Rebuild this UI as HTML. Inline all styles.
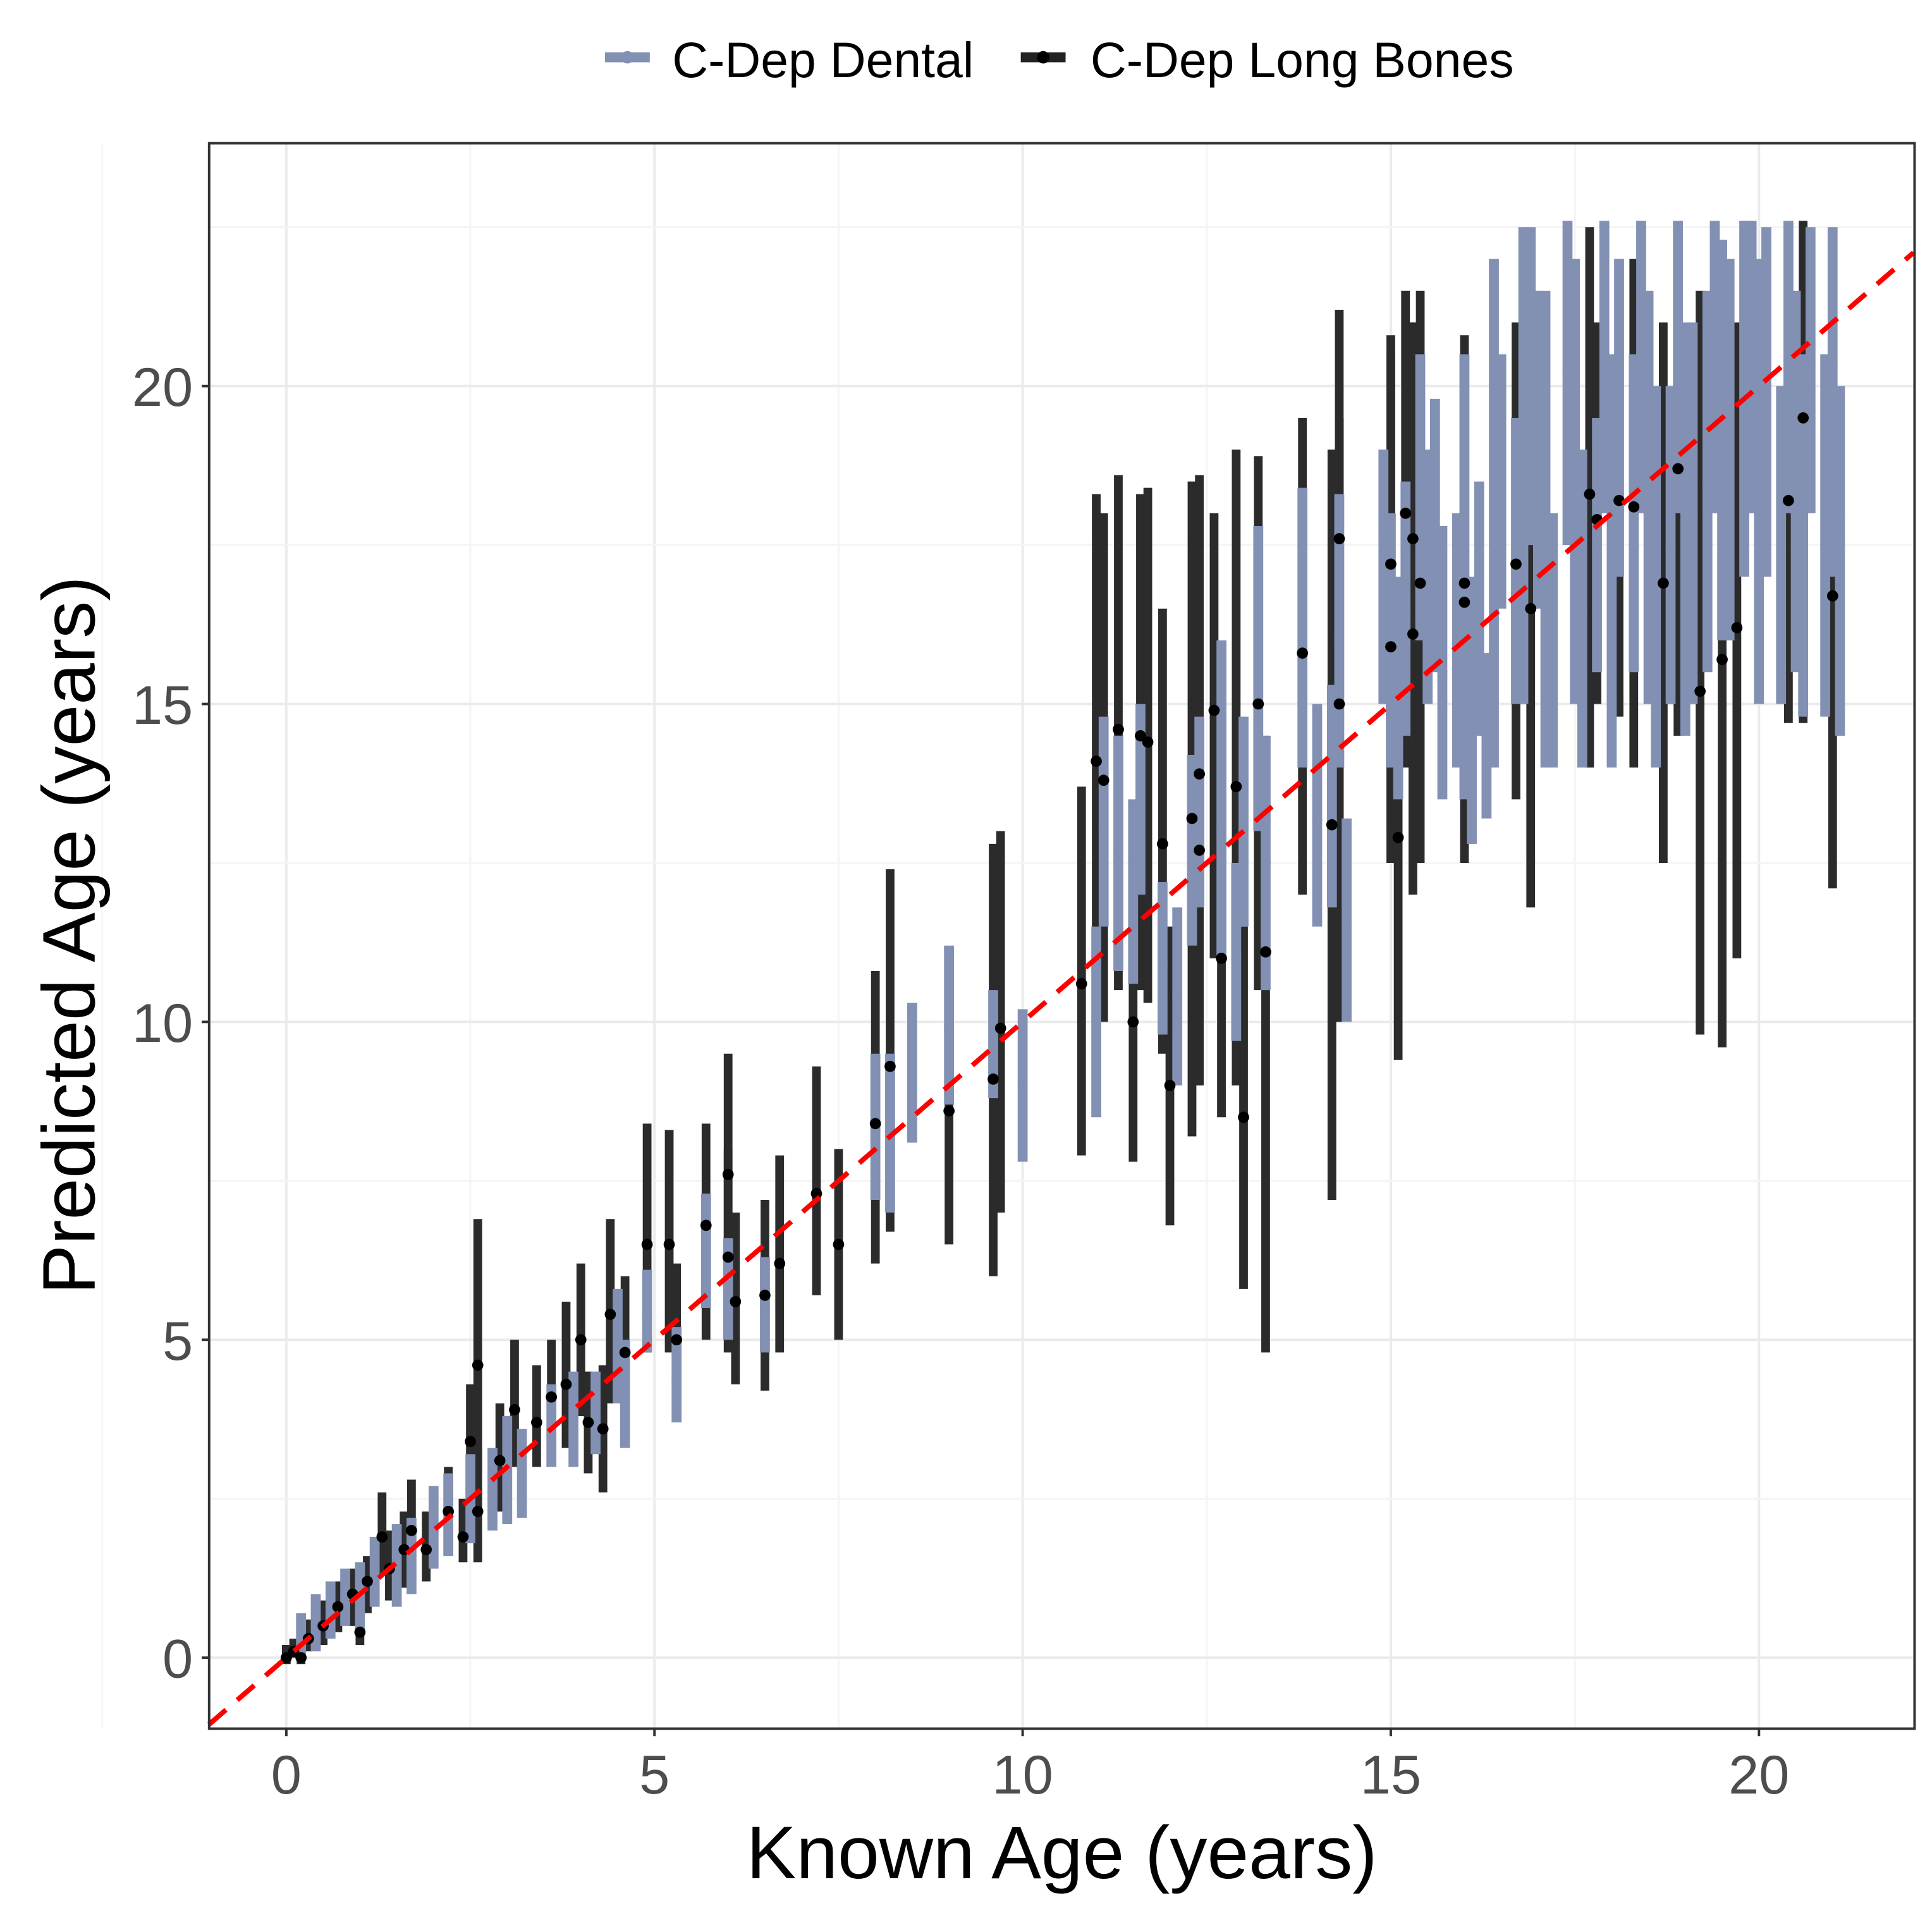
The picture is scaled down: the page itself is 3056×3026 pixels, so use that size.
<!DOCTYPE html>
<html><head><meta charset="utf-8"><style>
html,body{margin:0;padding:0;background:#fff}
svg{display:block}
text{font-family:"Liberation Sans",Arial,sans-serif}
</style></head><body>
<svg id="chart" width="3056" height="3026" viewBox="0 0 1552 1536" preserveAspectRatio="none" xmlns="http://www.w3.org/2000/svg">
<rect x="0" y="0" width="1552" height="1536" fill="#fff"/>
<g id="legend">
 <g>
  <line x1="486" y1="46" x2="522" y2="46" stroke="#8290b3" stroke-width="8"/>
  <circle cx="504" cy="46" r="5" fill="#8290b3"/>
  <text x="540" y="62" font-size="40" fill="#000">C-Dep Dental</text>
 </g>
 <g>
  <line x1="820" y1="46" x2="856" y2="46" stroke="#222" stroke-width="8"/>
  <circle cx="838" cy="46" r="5" fill="#000"/>
  <text x="876" y="62" font-size="40" fill="#000">C-Dep Long Bones</text>
 </g>
</g>
<g id="grid"></g>
<g id="marks"></g>
<rect x="168" y="115" width="1370" height="1273" fill="none" stroke="#333" stroke-width="2"/>
<g id="axes"></g>
<text x="853" y="1508" font-size="60" text-anchor="middle" fill="#000">Known Age (years)</text>
<text transform="translate(76,751) rotate(-90)" font-size="60" text-anchor="middle" fill="#000">Predicted Age (years)</text>
</svg>
<script>
const xTicks = [0, 5, 10, 15, 20];
const yTicks = [0, 5, 10, 15, 20];
// dental: [known, predicted, lower, upper]
const dentalX = [0.2,0.4,0.6,0.8,1.0,1.2,1.5,1.7,2.0,2.2,2.5,2.8,3.0,3.2,3.6,3.9,4.2,4.5,4.6,4.9,5.3,5.7,6.0,6.5,8.0,8.2,8.5,9.0,9.6,10.0,11.0,11.1,11.3,11.5,11.6,11.9,12.1,12.3,12.4,12.7,12.9,13.0,13.2,13.3,13.8,14.0,14.2,14.3,14.4,14.9,15.0,15.1,15.2,15.4,15.5,15.6,15.7,15.9,16.1,16.2,16.3,16.5,16.7,16.9,17.0,17.2,17.4,17.6,17.8,17.9,18.1,18.3,18.4,18.6,18.8,18.9,19.1,19.3,19.4,19.6,19.8,19.9,20.1,20.3,20.4,20.6,20.7,20.9,21.0,21.1,16.0,16.4,16.8,17.1,17.5,18.0,18.5,19.0,19.5,20.0,20.5];
const dentalY = [0.3,0.5,0.8,1.0,0.9,1.3,1.4,1.6,2.0,2.3,2.5,2.6,2.9,3.0,3.5,3.5,3.8,4.8,4.2,5.4,4.4,6.3,5.8,5.5,8.2,8.2,9.2,9.9,9.7,9.0,10.0,13.0,12.7,12.0,13.5,10.9,10.4,12.7,13.2,13.0,11.0,13.0,15.6,12.5,16.0,13.2,13.5,16.0,11.6,17.0,16.0,15.2,16.5,18.5,17.0,17.5,15.5,16.0,14.8,16.5,14.5,18.5,17.2,20.0,19.0,16.0,20.2,16.5,17.5,20.3,19.5,18.0,20.3,17.2,17.5,20.3,18.0,18.5,20.3,19.0,20.0,20.5,19.5,17.5,20.3,17.5,20.3,17.5,20.3,18.0,17.0,18.0,19.0,17.5,18.5,17.0,18.0,17.5,19.0,18.0,18.0];
const dentalLo = [0.0,0.1,0.3,0.5,0.4,0.8,0.8,1.0,1.4,1.6,1.8,2.0,2.1,2.2,3.0,3.0,3.2,4.0,3.3,4.8,3.7,5.5,5.0,4.8,7.2,7.0,8.1,8.7,8.8,7.8,8.5,11.5,10.8,10.6,12.0,9.8,9.0,11.2,11.8,11.0,9.7,11.5,13.0,10.5,14.0,11.5,11.8,14.0,10.0,15.0,14.0,13.5,14.5,16.0,15.0,15.5,13.5,14.0,12.8,14.5,13.2,16.5,15.0,17.5,16.5,14.0,17.5,14.0,15.5,18.0,17.0,15.5,18.0,14.0,15.0,18.0,15.0,15.5,18.0,16.0,17.0,18.0,17.0,15.0,18.0,14.8,18.0,14.8,17.0,14.5,13.5,14.0,15.0,14.0,15.0,14.0,15.0,14.5,16.0,15.0,15.5];
const dentalHi = [0.7,1.0,1.2,1.4,1.5,1.9,2.1,2.2,2.7,2.9,3.2,3.3,3.8,3.6,4.3,4.5,4.5,5.8,5.0,6.1,5.2,7.3,6.6,6.3,9.5,9.5,10.3,11.2,10.5,10.2,11.5,14.8,14.5,13.5,15.0,12.2,11.8,14.2,14.8,16.0,12.5,14.8,17.8,14.5,18.4,15.0,15.3,18.3,13.2,19.0,18.0,17.0,18.5,20.5,19.0,19.8,17.8,18.0,17.0,18.5,15.8,20.5,19.5,22.5,21.5,18.0,22.6,19.0,19.5,22.6,22.0,20.5,22.6,20.0,20.0,22.6,21.0,21.5,22.6,22.0,22.6,22.6,22.5,20.0,22.6,20.5,22.5,20.5,22.5,20.0,20.5,22.0,22.5,21.5,22.0,20.5,21.5,21.0,22.3,22.0,21.5];
// long bones
const boneX = [0.0,0.1,0.2,0.3,0.5,0.7,0.9,1.0,1.1,1.3,1.4,1.6,1.7,1.9,2.2,2.4,2.5,2.6,2.6,2.9,3.1,3.4,3.6,3.8,4.0,4.1,4.3,4.4,4.6,4.9,5.2,5.3,5.7,6.0,6.0,6.1,6.5,6.7,7.2,7.5,8.0,8.2,9.0,9.6,9.7,10.8,11.0,11.1,11.3,11.5,11.6,11.7,11.9,12.0,12.3,12.4,12.4,12.6,12.7,12.9,13.0,13.2,13.3,13.8,14.2,14.3,14.3,15.0,15.0,15.1,15.2,15.3,15.3,15.4,16.0,16.0,16.7,16.9,17.7,17.8,18.1,18.3,18.7,18.9,19.2,19.5,19.7,20.4,20.6,21.0];
const boneY = [0.0,0.1,0.0,0.3,0.5,0.8,1.0,0.4,1.2,1.9,1.4,1.7,2.0,1.7,2.3,1.9,3.4,2.3,4.6,3.1,3.9,3.7,4.1,4.3,5.0,3.7,3.6,5.4,4.8,6.5,6.5,5.0,6.8,6.3,7.6,5.6,5.7,6.2,7.3,6.5,8.4,9.3,8.6,9.1,9.9,10.6,14.1,13.8,14.6,10.0,14.5,14.4,12.8,9.0,13.2,12.7,13.9,14.9,11.0,13.7,8.5,15.0,11.1,15.8,13.1,17.6,15.0,15.9,17.2,12.9,18.0,16.1,17.6,16.9,16.6,16.9,17.2,16.5,18.3,17.9,18.2,18.1,16.9,18.7,15.2,15.7,16.2,18.2,19.5,16.7];
const boneLo = [-0.1,0,-0.1,0.1,0.2,0.4,0.5,0.2,0.7,1.3,0.9,1.1,1.3,1.2,1.7,1.5,2.5,1.5,2.9,2.3,3.0,3.0,3.2,3.3,3.8,2.9,2.6,4.0,3.6,4.8,4.8,3.9,5.0,4.8,5.8,4.3,4.2,4.8,5.7,5.0,6.2,6.7,6.5,6.0,7.0,7.9,10.0,10.0,10.5,7.8,10.5,10.3,9.5,6.8,8.2,9.3,9.0,11.0,8.5,9.0,5.8,10.5,4.8,12.0,7.2,10.0,10.0,12.5,13.0,9.4,14.0,12.0,14.0,12.5,12.5,13.0,13.5,11.8,14.0,15.0,14.8,14.0,12.5,14.5,9.8,9.6,11.0,14.7,14.7,12.1];
const boneHi = [0.2,0.3,0.3,0.6,0.9,1.2,1.4,0.8,1.6,2.6,2.0,2.3,2.8,2.3,3.0,2.5,4.3,3.3,6.9,4.0,5.0,4.6,5.0,5.6,6.2,4.5,4.6,6.9,6.0,8.4,8.3,6.2,8.4,8.0,9.5,7.0,7.2,7.9,9.3,8.0,10.8,12.4,10.5,12.8,13.0,13.7,18.3,18.0,18.6,13.0,18.3,18.4,16.5,11.5,18.5,16.5,18.6,18.0,13.8,19.0,11.5,18.9,14.5,19.5,19.0,21.2,19.5,20.5,20.8,16.5,21.5,21.0,21.0,21.5,20.5,20.8,21.0,20.0,22.5,21.0,21.5,22.0,21.0,22.0,21.5,21.5,21.0,21.5,22.6,21.0];

const L=168,R=1538,T=115,B=1388;
function sx(v){return 230+v*59.15;}
function sy(v){return 1331-v*51.05;}
const NS="http://www.w3.org/2000/svg";
function mk(tag,attrs,parent){const e=document.createElementNS(NS,tag);for(const k in attrs)e.setAttribute(k,attrs[k]);parent.appendChild(e);return e;}
const grid=document.getElementById('grid'), marks=document.getElementById('marks'), axes=document.getElementById('axes');
for(let i=0;i<xTicks.length;i++){
  const v=xTicks[i];
  const g=mk('line',{x1:sx(v),x2:sx(v),y1:T,y2:B,stroke:'#ebebeb','stroke-width':2},grid);
  
  
  const m=mk('line',{x1:sx(v+2.5),x2:sx(v+2.5),y1:T,y2:B,stroke:'#f4f4f4','stroke-width':1.5},grid);
  
  
  const tk=mk('line',{x1:sx(v),x2:sx(v),y1:B,y2:B+6,stroke:'#333','stroke-width':2},axes);
  
  
  const t=mk('text',{x:sx(v),y:1440,'font-size':44,'text-anchor':'middle',fill:'#4d4d4d'},axes);
  t.textContent=v;
  
  
}
const mx=mk('line',{x1:sx(-2.5),x2:sx(-2.5),y1:T,y2:B,stroke:'#f4f4f4'},grid);
for(let i=0;i<yTicks.length;i++){
  const v=yTicks[i];
  const g=mk('line',{x1:L,x2:R,y1:sy(v),y2:sy(v),stroke:'#ebebeb','stroke-width':2},grid);
  
  
  const m=mk('line',{x1:L,x2:R,y1:sy(v+2.5),y2:sy(v+2.5),stroke:'#f4f4f4','stroke-width':1.5},grid);
  
  
  const tk=mk('line',{x1:L-6,x2:L,y1:sy(v),y2:sy(v),stroke:'#333','stroke-width':2},axes);
  
  
  const t=mk('text',{x:155,y:sy(v)+16,'font-size':44,'text-anchor':'end',fill:'#4d4d4d'},axes);
  t.textContent=v;
  
  
}
// black bars
for(let i=0;i<boneX.length;i++){
  const b=mk('line',{x1:sx(boneX[i]),x2:sx(boneX[i]),y1:sy(boneLo[i]),y2:sy(boneHi[i]),stroke:'#2b2b2b','stroke-width':7},marks);
  
  
}
// dental
for(let i=0;i<dentalX.length;i++){
  const b=mk('line',{x1:sx(dentalX[i]),x2:sx(dentalX[i]),y1:sy(dentalLo[i]),y2:sy(dentalHi[i]),stroke:'#8290b3','stroke-width':8},marks);
  
  
  const p=mk('circle',{cx:sx(dentalX[i]),cy:sy(dentalY[i]),r:4,fill:'#8290b3'},marks);
  
  
}
for(let i=0;i<boneX.length;i++){
  const p=mk('circle',{cx:sx(boneX[i]),cy:sy(boneY[i]),r:4.5,fill:'#000'},marks);
  
  
}
const ref=mk('line',{x1:sx(-1.05),y1:sy(-1.05),x2:sx(22.1),y2:sy(22.1),stroke:'#ff0000','stroke-width':4,'stroke-dasharray':'18 12'},marks);


</script>
</body></html>
